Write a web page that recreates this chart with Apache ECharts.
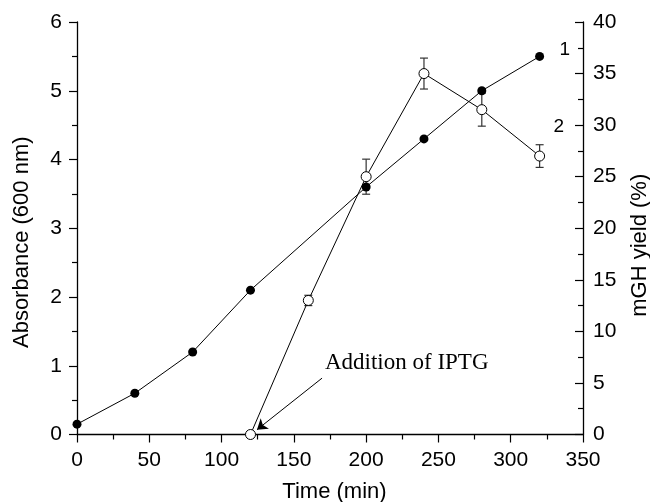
<!DOCTYPE html>
<html>
<head>
<meta charset="utf-8">
<script src="https://cdn.jsdelivr.net/npm/echarts@6/dist/echarts.min.js"></script>
<style>
  html, body { margin: 0; padding: 0; background: #fff; }
  #chart { width: 650px; height: 502px; }
</style>
</head>
<body>
<div id="chart"></div>
<script>
// 吸光度曲线 (曲线 1, 左轴)
const timeAbs = [0, 40, 80, 120, 200, 240, 280, 320]
const absorbance = [0.15, 0.6, 1.2, 2.1, 3.6, 4.3, 5.0, 5.5]

// mGH 产率 (曲线 2, 右轴)
const timeYield = [120, 160, 200, 240, 280, 320]
const yieldPct = [0, 13, 25, 35, 31.5, 27]
const yieldErr = [0, 0.5, 1.7, 1.5, 1.6, 1.1]

// 注释
const ipgtText = 'Addition of IPTG'
const ipgtTextAt = [171.5, 1.04]
const arrowFrom = [169.5, 0.82]
const arrowTo = [124.5, 0.07]
const curveLabels = [
  {name: '1', at: [337.4, 5.59]},
  {name: '2', at: [333.3, 4.47]},
]

const sans = "'Liberation Sans', Arial, sans-serif"
const serif = "'Liberation Serif', 'Times New Roman', serif"

let myChart = echarts.init(document.getElementById('chart'))

const axisCommon = {
  axisLine: {show: true, lineStyle: {color: '#000', width: 1.3}},
  axisTick: {show: true, length: 8, lineStyle: {color: '#000', width: 1.2}},
  minorTick: {show: true, splitNumber: 2, length: 5, lineStyle: {color: '#000', width: 1.2}},
  splitLine: {show: false},
  axisLabel: {color: '#000', fontFamily: sans, fontSize: 21},
  nameLocation: 'middle',
  nameTextStyle: {color: '#000', fontFamily: sans, fontSize: 22},
}

myChart.setOption({
  animation: false,
  grid: {left: 77, right: 67, top: 22, bottom: 67.5, containLabel: false, outerBoundsMode: 'none'},
  xAxis: {
    ...axisCommon,
    type: 'value',
    min: 0, max: 350, interval: 50,
    name: 'Time (min)',
    nameGap: 46,
    nameTextStyle: {...axisCommon.nameTextStyle, padding: [0, 0, 0, 9]},
    axisLabel: {...axisCommon.axisLabel, margin: 15},
  },
  yAxis: [
    {
      ...axisCommon,
      type: 'value',
      position: 'left',
      min: 0, max: 6, interval: 1,
      name: 'Absorbance (600 nm)',
      nameRotate: 90,
      nameGap: 44,
      nameTextStyle: {...axisCommon.nameTextStyle, padding: [0, 28, 0, 0]},
      axisLabel: {...axisCommon.axisLabel, margin: 15},
    },
    {
      ...axisCommon,
      type: 'value',
      position: 'right',
      min: 0, max: 40, interval: 5,
      name: 'mGH yield (%)',
      nameRotate: 90,
      nameGap: 46,
      nameTextStyle: {...axisCommon.nameTextStyle, padding: [0, 34, 0, 0]},
      axisTick: {...axisCommon.axisTick, inside: true},
      minorTick: {...axisCommon.minorTick},
      axisLabel: {...axisCommon.axisLabel, margin: 10},
    },
  ],
  series: [
    {
      name: 'absorbance',
      type: 'line',
      yAxisIndex: 0,
      data: timeAbs.map((t, i) => [t, absorbance[i]]),
      symbol: 'circle',
      symbolSize: 9,
      itemStyle: {color: '#000'},
      lineStyle: {color: '#000', width: 1},
      z: 3,
      markLine: {
        silent: true,
        symbol: ['none', 'arrow'],
        symbolSize: 10,
        lineStyle: {color: '#000', width: 1, type: 'solid'},
        label: {show: false},
        data: [[{coord: arrowFrom}, {coord: arrowTo}]],
      },
      markPoint: {
        silent: true,
        symbol: 'circle',
        symbolSize: 0,
        label: {
          show: true,
          position: 'inside',
          align: 'left',
          verticalAlign: 'middle',
          color: '#000',
          fontFamily: serif,
          fontSize: 23,
          formatter: (p) => p.name,
        },
        data: [{name: ipgtText, coord: ipgtTextAt}].concat(
          curveLabels.map(c => ({
            name: c.name, coord: c.at,
            label: {align: 'center', fontFamily: sans, fontSize: 19},
          }))
        ),
      },
    },
    {
      name: 'yield',
      type: 'line',
      yAxisIndex: 1,
      data: timeYield.map((t, i) => [t, yieldPct[i]]),
      symbol: 'circle',
      symbolSize: 10,
      itemStyle: {color: '#fff', borderColor: '#000', borderWidth: 1},
      lineStyle: {color: '#000', width: 1},
      z: 4,
    },
    {
      name: 'yield-error',
      type: 'custom',
      yAxisIndex: 1,
      z: 2,
      data: timeYield.map((t, i) => [t, yieldPct[i] - yieldErr[i], yieldPct[i] + yieldErr[i]])
        .filter((d, i) => yieldErr[i] > 0),
      renderItem: function (params, api) {
        let lo = api.coord([api.value(0), api.value(1)])
        let hi = api.coord([api.value(0), api.value(2)])
        let w = 4
        let style = {stroke: '#333', lineWidth: 1.2}
        return {
          type: 'group',
          children: [
            {type: 'line', shape: {x1: hi[0], y1: hi[1], x2: lo[0], y2: lo[1]}, style},
            {type: 'line', shape: {x1: hi[0] - w, y1: hi[1], x2: hi[0] + w, y2: hi[1]}, style},
            {type: 'line', shape: {x1: lo[0] - w, y1: lo[1], x2: lo[0] + w, y2: lo[1]}, style},
          ],
        }
      },
    },
  ],
})
window.addEventListener('resize', () => myChart.resize())
</script>
</body>
</html>
